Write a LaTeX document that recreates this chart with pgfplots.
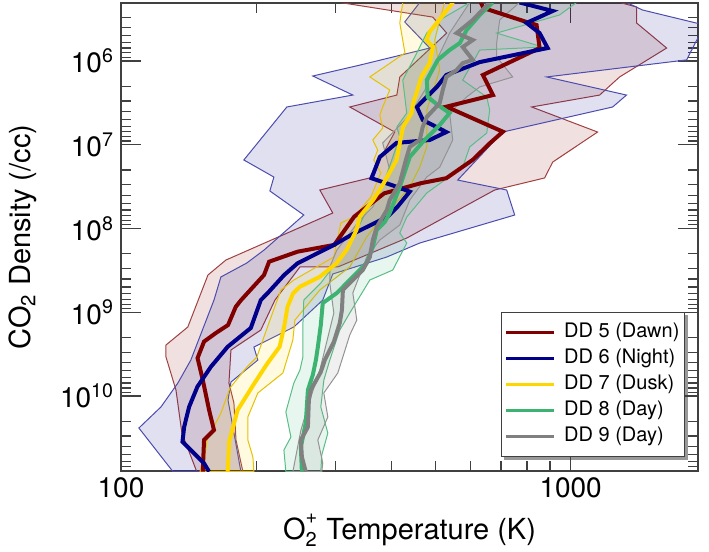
\documentclass[border=0pt]{standalone}
\usepackage{pgfplots}
\pgfplotsset{compat=1.18}
\usepackage{fontspec}
\setmainfont{TeX Gyre Heros}
\pgfdeclarelayer{background}
\pgfsetlayers{background,main}
\definecolor{c5}{RGB}{128,0,0}
\definecolor{c6}{RGB}{0,0,139}
\definecolor{c7}{RGB}{255,215,0}
\definecolor{c8}{RGB}{60,179,113}
\definecolor{c9}{RGB}{128,128,128}
\begin{document}
\begin{tikzpicture}
\begin{axis}[
  name=ax,
  scale only axis, width=288.5pt, height=234pt,
  xmode=log, ymode=log, y dir=reverse,
  xmin=100, xmax=1920, ymin=2.03e5, ymax=7.86e10,
  xtick={100,1000}, xticklabels={100,1000},
  minor xtick={200,300,400,500,600,700,800,900},
  ytick={1e6,1e7,1e8,1e9,1e10},
  yticklabels={10\textsuperscript{6},10\textsuperscript{7},10\textsuperscript{8},10\textsuperscript{9},10\textsuperscript{10}},
  minor ytick={3e5,4e5,5e5,6e5,7e5,8e5,9e5,2e6,3e6,4e6,5e6,6e6,7e6,8e6,9e6,2e7,3e7,4e7,5e7,6e7,7e7,8e7,9e7,2e8,3e8,4e8,5e8,6e8,7e8,8e8,9e8,2e9,3e9,4e9,5e9,6e9,7e9,8e9,9e9,2e10,3e10,4e10,5e10,6e10,7e10},
  major tick length=10pt, minor tick length=5pt,
  tick style={color=black!75, line width=0.6pt},
  axis line style={black!75, line width=0.8pt},
  tick label style={font=\fontsize{14}{16}\selectfont},
  xlabel={O\rlap{\raisebox{-0.45ex}{\fontsize{10}{12}\selectfont 2}}\raisebox{1.1ex}{\fontsize{10}{12}\selectfont +}\hspace{0.5pt} Temperature (K)},
  ylabel={CO\textsubscript{2} Density (/cc)},
  label style={font=\fontsize{14.5}{17}\selectfont},
  xlabel style={at={(axis description cs:0.5,-0.147)}, anchor=base},
  ylabel style={at={(axis description cs:-0.156,0.5)}, anchor=base, rotate=0},
  legend cell align=left,
  legend image code/.code={\draw[#1, line width=1.8pt] (0cm,0cm) -- (0.85cm,0cm);},
  legend style={name=leg, at={(axis description cs:0.9775,0.03)}, anchor=south east,
    draw=black!75, line width=0.6pt, fill=white,
    font=\fontsize{10}{12}\selectfont,
    inner xsep=1.5pt, inner ysep=4pt, row sep=1pt,
    /tikz/every odd column/.append style={column sep=3pt},
    nodes={text height=7.5pt, text depth=2.5pt, inner sep=1pt}},
]
% ---- bands ----
\addplot[forget plot, fill=c5, fill opacity=0.12, draw=c5!75, line width=0.5pt] coordinates {
(306.6,2e5) (493.6,2.99e5) (530,4.64e5) (416.9,1.55e6) (410.6,2.55e6) (322.7,3.54e6) (406.3,7.05e6) (357.6,2.49e7) (276.8,3.47e7) (295.8,6.53e7) (171.1,2.38e8) (156.1,3.59e8) (140.8,1.5e9) (125.9,2.46e9) (125.9,3.42e9) (132.5,8.47e9) (136.6,2.77e10) (147.4,8e10)
(186.7,8e10) (180.2,3.35e10) (178.3,1.21e10) (173.8,7.0e9) (175.6,2.82e9) (204.6,1.63e9) (220,7.15e8) (250,2.88e8) (303.5,2.88e8) (432,1.3e8) (677.6,3.47e7) (875.5,2.49e7) (912,1.61e7) (1148,7.05e6) (819,3.54e6) (1160,2.55e6) (1285,1.55e6) (1635,7.0e5) (1401,3.51e5) (1401,2.26e5) (1285,2e5)
} -- cycle;
\addplot[forget plot, fill=c6, fill opacity=0.12, draw=c6!70, line width=0.5pt] coordinates {
(461.8,2e5) (427.6,3.42e5) (486,7.0e5) (339.6,1.12e6) (267,1.51e6) (327.8,2.55e6) (233.8,3.54e6) (187.6,1.52e7) (218.8,2.43e7) (214.3,3.56e7) (255,6.9e7) (208,1.81e8) (190.5,2.58e8) (166.8,3.79e8) (161,7.15e8) (143,3.72e9) (133.8,7.0e9) (122.7,1.35e10) (109.6,2.41e10) (130.5,8e10)
(184.8,8e10) (173,1.12e10) (175.6,6.81e9) (201.5,3.72e9) (197.5,2.6e9) (242.3,1.5e9) (281,7.15e8) (295.8,3.49e8) (390,2.19e8) (461.8,1.49e8) (751,6.9e7) (720.7,3.47e7) (560.7,2.64e7) (706,7.05e6) (1240,3.54e6) (1331,2.55e6) (884.5,1.55e6) (1811,9.7e5) (1985,3.72e5) (1445,2.46e5) (1331,2e5)
} -- cycle;
\addplot[forget plot, fill=c7, fill opacity=0.12, draw=c7!90!black, line width=0.5pt] coordinates {
(423.3,2e5) (416.9,3.51e5) (428,8.02e5) (357.6,1.55e6) (396,2.22e6) (382,3.54e6) (376.4,4.42e6) (382,6.31e6) (363.1,8.77e6) (372.4,1.16e7) (364.9,1.52e7) (378.3,2.17e7) (359.4,4.21e7) (329.4,7.3e7) (308.2,8.6e7) (297.4,2.19e8) (242.3,4.12e8) (226.8,5.42e8) (214.4,1.24e9) (200.5,3.42e9) (190.5,4.51e9) (174.7,8.02e9) (166.8,1.6e10) (155.3,3.35e10) (153.7,5.35e10) (149.9,8e10)
(197.5,8e10) (196.5,5.35e10) (191.5,3.35e10) (191.5,1.78e10) (201.5,9.2e9) (229.1,5.31e9) (241.1,2.14e9) (243.6,1.24e9) (276.8,5.42e8) (322.7,2.88e8) (352,1.26e8) (376.4,7.93e7) (402.2,5.5e7) (438.7,3.19e7) (461.8,1.85e7) (478.6,1.06e7) (478.6,3.85e6) (511.5,1.28e6) (498.6,5.62e5) (511.5,3.24e5) (524.8,2e5)
} -- cycle;
\addplot[forget plot, fill=c8, fill opacity=0.12, draw=c8!85, line width=0.5pt] coordinates {
(596.5,2e5) (511.5,3.24e5) (478.6,4.64e5) (454.8,8.02e5) (423.3,1.69e6) (432,4.18e6) (410.6,6.14e6) (416.9,8.07e6) (386,2.64e7) (352,6.01e7) (322.7,1.57e8) (278.2,4.48e8) (255,7.15e8) (253.8,1.42e9) (253.8,3.42e9) (250,4.9e9) (242.3,7.0e9) (232.6,1.55e10) (238.7,3.09e10) (230.3,4.42e10) (232.6,8e10)
(278.2,8e10) (279.6,5.06e10) (288.4,2.77e10) (278.2,1.35e10) (282.6,6.44e9) (291.3,3.72e9) (306.6,1.63e9) (322.7,1.02e9) (357.6,4.12e8) (402.2,3.13e8) (432,1.49e8) (416.9,1.13e8) (432,7.3e7) (478.6,3.77e7) (575.4,1.85e7) (596.5,1.06e7) (650.8,7.25e6) (660.7,3.85e6) (650.8,2.69e6) (575.4,1.69e6) (627.8,7.4e5) (866.6,6.81e5) (684.7,4.64e5) (945,2.82e5) (1031,2e5)
} -- cycle;
\addplot[forget plot, fill=c9, fill opacity=0.12, draw=c9!85, line width=0.5pt] coordinates {
(596.5,2e5) (538,4.64e5) (503.8,9.7e5) (474,2.22e6) (438.7,4.42e6) (382,9.5e6) (396,2.0e7) (363.1,5.53e7) (339.6,7.93e7) (302,1.81e8) (291.3,2.88e8) (291.3,4.48e8) (297.4,1.02e9) (276.8,4.9e9) (263,1.12e10) (251.2,2.57e10) (241.1,8e10)
(279.6,8e10) (281,6.31e10) (274,3.35e10) (288.4,1.78e10) (282.5,9.2e9) (303.5,5.31e9) (322.7,1.87e9) (334.5,1.24e9) (327.8,5.89e8) (352,2.19e8) (376.4,1.37e8) (416.9,9.08e7) (438.7,4.57e7) (478.6,2.43e7) (511.5,1.85e7) (546.7,8.77e6) (538,4.18e6) (587,2.69e6) (627.8,2.04e6) (743.5,1.55e6) (684.7,8.95e5) (684.7,6.1e5) (695.3,3.24e5) (770,2e5)
} -- cycle;
% ---- lines ----
\addplot[c5, line width=2pt] coordinates {
(152,8e10) (153,3.35e10) (161,2.55e10) (157,1.47e10) (152,6.4e9) (148,3.52e9) (153,2.24e9) (162.5,1.77e9) (173,1.42e9) (180,8.6e8) (185,7.15e8) (208,3.59e8) (213.5,2.49e8) (247,1.89e8) (298,1.57e8) (330,7.23e7) (385,3.8e7) (464,2.88e7) (529,2.51e7) (606,1.51e7) (661,9.6e6) (707,6.99e6) (529,3.51e6) (672,2.55e6) (638,1.47e6) (853,7.0e5) (840,3.72e5) (798,3.42e5) (640,2.33e5) (631,2.0e5)
};
\addlegendentry{DD 5 (Dawn)}
\addplot[c6, line width=2pt] coordinates {
(157,8e10) (153,6.37e10) (137,3.51e10) (138.2,2.33e10) (141.8,1.34e10) (147.9,7.74e9) (158.5,4.47e9) (172.7,2.58e9) (194.4,1.54e9) (204.6,7.15e8) (211.7,5.94e8) (230.6,3.59e8) (247,2.6e8) (297.6,1.57e8) (330,1.14e8) (391.5,7.23e7) (412,5.5e7) (438.7,3.63e7) (410,3.17e7) (360.7,2.51e7) (376.4,1.4e7) (410,9.5e6) (486,8.77e6) (529,7.05e6) (469,5.06e6) (455,3.54e6) (478.6,2.69e6) (504,2.04e6) (529,1.47e6) (628,1.03e6) (889,7.0e5) (853,4.64e5) (798,3.51e5) (912,2.53e5) (770,2.0e5)
};
\addlegendentry{DD 6 (Night)}
\addplot[c7, line width=2pt] coordinates {
(172.7,8e10) (174,3.51e10) (181.7,1.47e10) (198,7.05e9) (211.7,4.07e9) (225.3,2.58e9) (230.6,1.49e9) (234.6,8.6e8) (241.4,5.94e8) (250,4.95e8) (276.8,3.77e8) (301.5,2.6e8) (317.3,1.81e8) (334,1.04e8) (339.6,7.23e7) (363.6,4.57e7) (382,3.02e7) (410,1.52e7) (416.9,9.6e6) (424,6.1e6) (442.5,4.21e6) (446.3,3.2e6) (454,2.43e6) (465.8,1.54e6) (486,1.06e6) (494,6.75e5) (478,5.61e5) (486,4.47e5) (503,3.55e5) (547.6,2.0e5)
};
\addlegendentry{DD 7 (Dusk)}
\addplot[c8, line width=2pt] coordinates {
(252.5,8e10) (251.2,4.06e10) (257.6,2.1e10) (260.4,8.47e9) (267,5.61e9) (271.3,3.72e9) (274,2.6e9) (278.2,1.42e9) (281,7.76e8) (302,5.89e8) (327.8,3.79e8) (352,2.58e8) (363.1,1.66e8) (370.5,1.04e8) (386,8.36e7) (396,6.53e7) (416.9,3.19e7) (438.7,1.4e7) (468.8,9.27e6) (511.5,5.81e6) (538,4.18e6) (506.4,3.35e6) (481,2.69e6) (478.6,1.69e6) (506.4,9.7e5) (538,7.4e5) (567,6.1e5) (587,4.27e5) (628,2.82e5) (671,2.0e5)
};
\addlegendentry{DD 8 (Day)}
\addplot[c9, line width=2pt] coordinates {
(257.6,8e10) (252.5,5.35e10) (251.2,3.35e10) (260.4,2.34e10) (261.7,1.12e10) (264.3,8.47e9) (278.2,5.16e9) (284,3.72e9) (297.4,2.26e9) (306.6,1.34e9) (310,9.4e8) (311.5,5.42e8) (327.8,4.12e8) (345,3.13e8) (357.6,2.19e8) (363.1,1.37e8) (370.5,9.6e7) (390.2,6.01e7) (396,4.57e7) (416.9,2.86e7) (430,1.52e7) (438.7,1.06e7) (461.8,8.77e6) (468.8,6.14e6) (478.6,4.67e6) (511.5,3.17e6) (519.5,2.22e6) (529,1.55e6) (557.9,1.28e6) (575.4,1.06e6) (605.7,9.7e5) (575.4,6.81e5) (605.7,5.62e5) (557.9,4.64e5) (605.7,3.24e5) (660.7,2.0e5)
};
\addlegendentry{DD 9 (Day)}
\end{axis}
\begin{pgfonlayer}{background}
\fill[black!40] ([shift={(1.5pt,-1.5pt)}]leg.south west) rectangle ([shift={(1.5pt,-1.5pt)}]leg.north east);
\end{pgfonlayer}
\pgfresetboundingbox
\path[use as bounding box] ([shift={(-60.5pt,-40.5pt)}]ax.south west) rectangle ([shift={(5.5pt,1.5pt)}]ax.north east);
\end{tikzpicture}
\end{document}
